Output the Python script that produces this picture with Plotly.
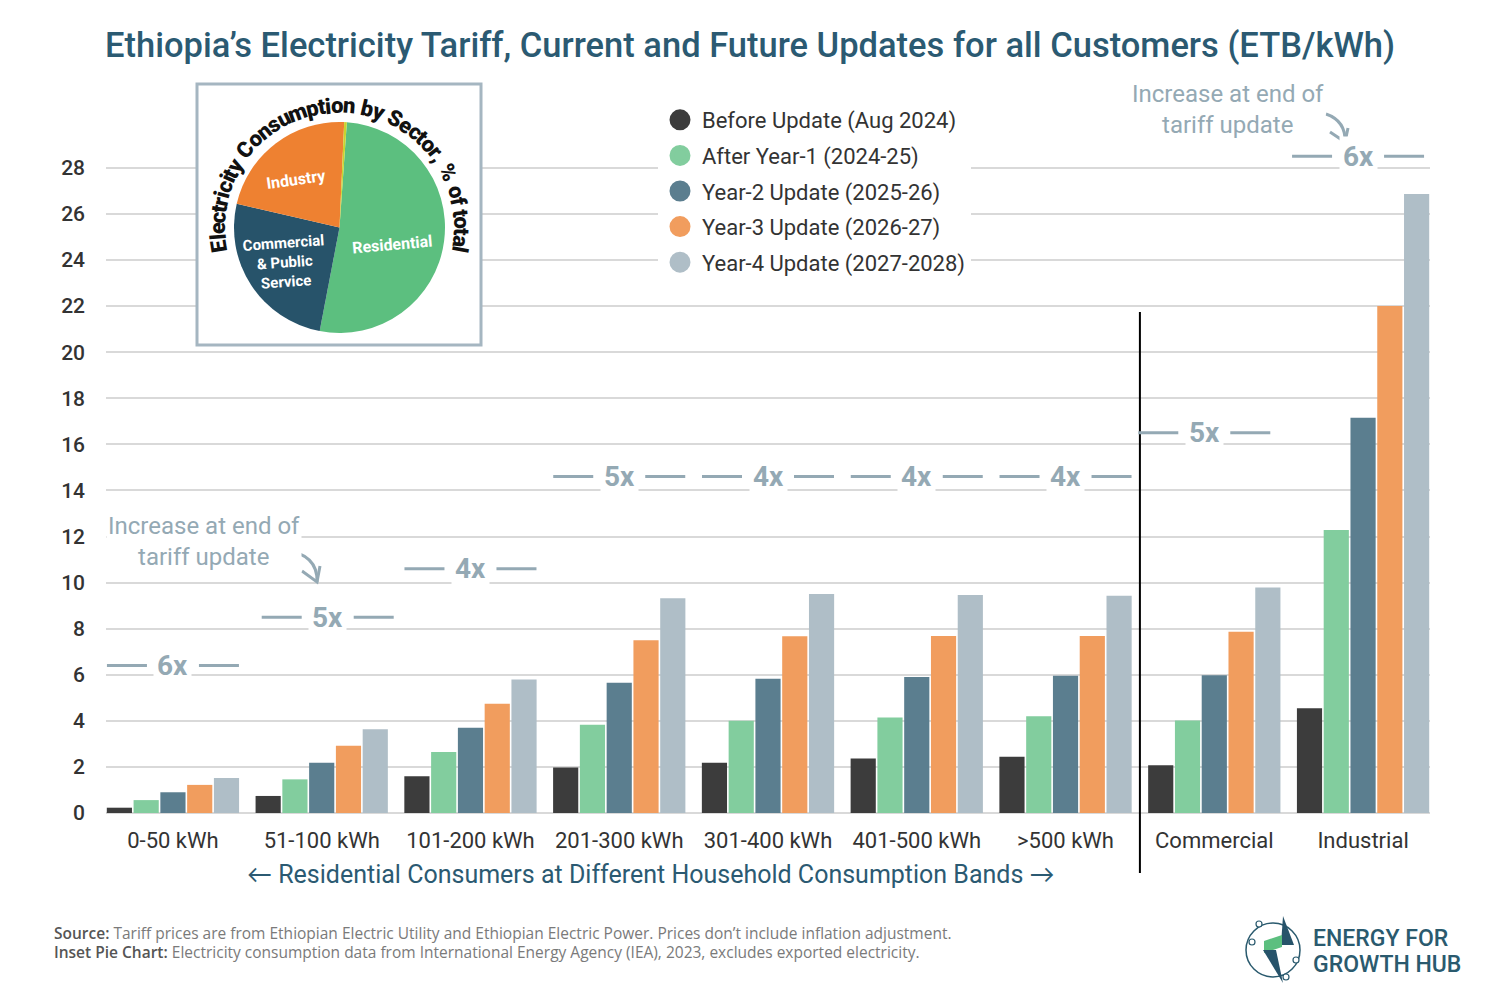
import math
import plotly.graph_objects as go

# ---------------- data ----------------
categories = ["0-50 kWh", "51-100 kWh", "101-200 kWh", "201-300 kWh", "301-400 kWh",
              "401-500 kWh", ">500 kWh", "Commercial", "Industrial"]
series_names = ["Before Update (Aug 2024)", "After Year-1 (2024-25)", "Year-2 Update (2025-26)",
                "Year-3 Update (2026-27)", "Year-4 Update (2027-2028)"]
before_update = [0.23, 0.74, 1.59, 1.98, 2.18, 2.37, 2.44, 2.07, 4.55]
year1_update = [0.56, 1.46, 2.65, 3.83, 4.00, 4.14, 4.20, 4.01, 12.28]
year2_update = [0.90, 2.18, 3.70, 5.65, 5.83, 5.90, 5.96, 5.98, 17.15]
year3_update = [1.22, 2.92, 4.74, 7.50, 7.67, 7.68, 7.68, 7.87, 22.00]
year4_update = [1.52, 3.63, 5.79, 9.32, 9.50, 9.46, 9.43, 9.79, 26.87]
multipliers = ["6x", "5x", "4x", "5x", "4x", "4x", "4x", "5x", "6x"]
y_ticks = list(range(0, 29, 2))

sectors = ["Residential", "Commercial & Public Service", "Industry", "Other"]
sector_share = [51.9, 25.6, 22.1, 0.4]

# ---------------- styles ----------------
colors = ["#3c3c3c", "#82cd9e", "#5b7e8f", "#f19d5e", "#afbec7"]
pie_colors = ["#5cbf7f", "#27536a", "#ee8131", "#c8d42e"]
TEAL = "#2b5a72"
HINT = "#94a9b4"
FONT = "Roboto, Lato, sans-serif"

W, H = 1500, 1000
L, R, T, B = 106, 1430, 78, 813
PW, PH = R - L, B - T
PX_PER_UNIT = 23.04
YMAX = PH / PX_PER_UNIT
XR = (-0.45, 8.45)
CAT_W = PW / (XR[1] - XR[0])


def px(x):
    return (x - L) / PW


def py(y):
    return (B - y) / PH


def dxv(x):
    return XR[0] + (x - L) / CAT_W


def dyv(y):
    return (B - y) / PX_PER_UNIT


def note(x, y, text, size, color, weight="normal", angle=0, xanchor="center", align="center",
         bgcolor=None, family=FONT):
    d = dict(x=px(x), y=py(y), xref="paper", yref="paper", text=text, showarrow=False,
             xanchor=xanchor, yanchor="middle", textangle=angle, align=align,
             font=dict(family=family, size=size, color=color, weight=weight))
    if bgcolor:
        d["bgcolor"] = bgcolor
    return d


def path_px(points, close=False):
    parts = []
    for cmd, pts in points:
        for a, b in pts:
            parts.append(f"{cmd}{px(a):.5f},{py(b):.5f}")
    s = " ".join(parts)
    return s + (" Z" if close else "")


fig = go.Figure()

all_series = [before_update, year1_update, year2_update, year3_update, year4_update]
for name, vals, c in zip(series_names, all_series, colors):
    fig.add_trace(go.Bar(x=categories, y=vals, name=name, marker=dict(color=c, line=dict(width=0)),
                         showlegend=False))
for k, (name, c) in enumerate(zip(series_names, colors)):
    fig.add_trace(go.Scatter(x=[None], y=[None], mode="markers", name=name, legendgroup=f"g{k}",
                             marker=dict(symbol="circle", size=16, color=c, line=dict(color=c, width=5))))

# inset pie
fig.add_trace(go.Pie(labels=sectors, values=sector_share, sort=False, direction="clockwise",
                     rotation=4, marker=dict(colors=pie_colors, line=dict(width=0)),
                     textinfo="none", showlegend=False, hoverinfo="label+percent",
                     domain=dict(x=[px(234), px(445)], y=[py(333), py(122)])))

shapes = []
annotations = []

# inset box (white, covers gridlines)
shapes.append(dict(type="rect", xref="x", yref="y", layer="between",
                   x0=dxv(197), x1=dxv(481), y0=dyv(345), y1=dyv(84),
                   fillcolor="white", line=dict(color="#a5b6c1", width=3)))

# divider between residential and other customers
shapes.append(dict(type="line", xref="x", yref="paper", layer="above",
                   x0=6.5, x1=6.5, y0=py(873), y1=py(312), line=dict(color="black", width=2)))

# multiplier labels
mult_y = [6.4, 8.5, 10.6, 14.6, 14.6, 14.6, 14.6, 16.5, 28.5]
mult_shift = [0, 6, 0, 0, 0, 0, 0, -10, -5]
for i, (m, yv, sh) in enumerate(zip(multipliers, mult_y, mult_shift)):
    annotations.append(dict(x=i, y=yv, xref="x", yref="y", text=m, showarrow=False, xshift=sh,
                            xanchor="center", yanchor="middle",
                            font=dict(family=FONT, size=28, color=HINT, weight="bold"),
                            bgcolor="white", borderpad=3))
    for a, b in [(-66, -26), (26, 66)]:
        shapes.append(dict(type="line", xref="x", yref="y", xsizemode="pixel", xanchor=i,
                           x0=a + sh, x1=b + sh, y0=yv, y1=yv, layer="above",
                           line=dict(color=HINT, width=3)))

# "Increase at end of tariff update" notes
for cx, cy in [(204, 541), (1228, 109)]:
    annotations.append(note(cx, cy, "Increase at end of<br>tariff update", 24, HINT, bgcolor="white"))

for start, ctrl, tip, h1, h2 in [((284, 550), (318, 554), (317, 582), (302, 571), (320, 566)),
                                 ((1326, 114), (1346, 121), (1345, 142), (1330, 132), (1348, 128))]:
    shapes.append(dict(type="path", xref="paper", yref="paper", layer="above",
                       path=f"M{px(start[0]):.5f},{py(start[1]):.5f} Q{px(ctrl[0]):.5f},{py(ctrl[1]):.5f} {px(tip[0]):.5f},{py(tip[1]):.5f}",
                       line=dict(color=HINT, width=3)))
    shapes.append(dict(type="path", xref="paper", yref="paper", layer="above",
                       path=path_px([("M", [h1]), ("L", [tip, h2])]),
                       line=dict(color=HINT, width=3)))

# pie slice labels
annotations.append(note(296, 179, "Industry", 16, "white", "bold", -8))
annotations.append(note(392, 244, "Residential", 16, "white", "bold", -5))
annotations.append(note(285, 262, "Commercial<br>& Public<br>Service", 15, "white", "bold", -4))

# curved pie title
arc_title = "Electricity Consumption by Sector, % of total"
cw = {"E": 667, "l": 278, "e": 556, "c": 556, "t": 333, "r": 389, "i": 278, "y": 556, " ": 278,
      "C": 722, "o": 611, "n": 611, "s": 556, "u": 611, "m": 889, "p": 611, "b": 611, "S": 667,
      ",": 278, "%": 889, "f": 333, "a": 556}
widths = [cw.get(ch, 556) for ch in arc_title]
centers = []
acc = 0
for w in widths:
    centers.append(acc + w / 2)
    acc += w
a0, a1 = -99.0, 100.5
PCX, PCY, RAD = 339.5, 227.5, 122
for ch, c in zip(arc_title, centers):
    if ch == " ":
        continue
    th = a0 + (c - centers[0]) / (centers[-1] - centers[0]) * (a1 - a0)
    t = math.radians(th)
    annotations.append(note(PCX + RAD * math.sin(t), PCY - RAD * math.cos(t), ch, 22,
                            "#111111", 900, th))

# axis sub-label
annotations.append(note(651, 874, "\u2190 Residential Consumers at Different Household Consumption Bands \u2192",
                        25, TEAL))

# footer
FOOT = "Open Sans, sans-serif"
annotations.append(note(52, 933, "<span style='color:#555555;font-weight:600'>Source:</span> Tariff prices are from Ethiopian Electric Utility and Ethiopian Electric Power. Prices don\u2019t include inflation adjustment.",
                        15.5, "#7a7a7a", xanchor="left", align="left", family=FOOT))
annotations.append(note(52, 952, "<span style='color:#555555;font-weight:600'>Inset Pie Chart:</span> Electricity consumption data from International Energy Agency (IEA), 2023, excludes exported electricity.",
                        15.5, "#7a7a7a", xanchor="left", align="left", family=FOOT))

# logo
annotations.append(note(1311, 938, "ENERGY FOR", 23, "#2a5a6e", 500, xanchor="left", align="left"))
annotations.append(note(1311, 964, "GROWTH HUB", 23, "#2a5a6e", 500, xanchor="left", align="left"))
shapes.append(dict(type="circle", xref="paper", yref="paper", layer="above",
                   x0=px(1246), x1=px(1300), y0=py(977), y1=py(923),
                   line=dict(color="#2a5a6e", width=1.5)))
for poly, col in [([(1283, 916), (1294, 945), (1281, 945)], "#27536a"),
                  ([(1264, 941), (1282, 935), (1282, 947), (1264, 953)], "#5cbf7f"),
                  ([(1263, 950), (1276, 950), (1283, 983)], "#27536a")]:
    shapes.append(dict(type="path", xref="paper", yref="paper", layer="above",
                       path=path_px([("M", [poly[0]]), ("L", poly[1:])], close=True),
                       fillcolor=col, line=dict(width=0)))
for cxp, cyp in [(1259, 924), (1252, 942), (1296, 960), (1286, 977)]:
    shapes.append(dict(type="circle", xref="paper", yref="paper", layer="above",
                       x0=px(cxp - 3), x1=px(cxp + 3), y0=py(cyp + 3), y1=py(cyp - 3),
                       fillcolor="white", line=dict(color="#2a5a6e", width=1.2)))

fig.update_layout(
    width=W, height=H,
    margin=dict(l=L, r=W - R, t=T, b=H - B),
    paper_bgcolor="white", plot_bgcolor="white",
    barmode="group", bargap=0.1, bargroupgap=0.06,
    title=dict(text="Ethiopia\u2019s Electricity Tariff, Current and Future Updates for all Customers (ETB/kWh)",
               x=0.5, xanchor="center", y=1 - 45 / H, yanchor="middle",
               font=dict(family=FONT, size=34.5, color=TEAL, weight=500)),
    legend=dict(x=px(658), y=py(99), xanchor="left", yanchor="top", bgcolor="white",
                font=dict(family=FONT, size=22, color="#333333"), itemwidth=34,
                tracegroupgap=4),
    shapes=shapes, annotations=annotations,
    xaxis=dict(range=list(XR), showgrid=False, showline=False, zeroline=False, ticks="",
               tickfont=dict(family=FONT, size=22, color="#333333"), ticklabelstandoff=12,
               fixedrange=True),
    yaxis=dict(range=[0, YMAX], tickvals=y_ticks, showgrid=True, gridcolor="#d9d9d9", gridwidth=1.5,
               zeroline=True, zerolinecolor="#d9d9d9", zerolinewidth=1.5, showline=False,
               tickfont=dict(family=FONT, size=21, color="#333333", weight=500), ticklabelstandoff=20,
               fixedrange=True),
)

fig.write_html("out.html")
